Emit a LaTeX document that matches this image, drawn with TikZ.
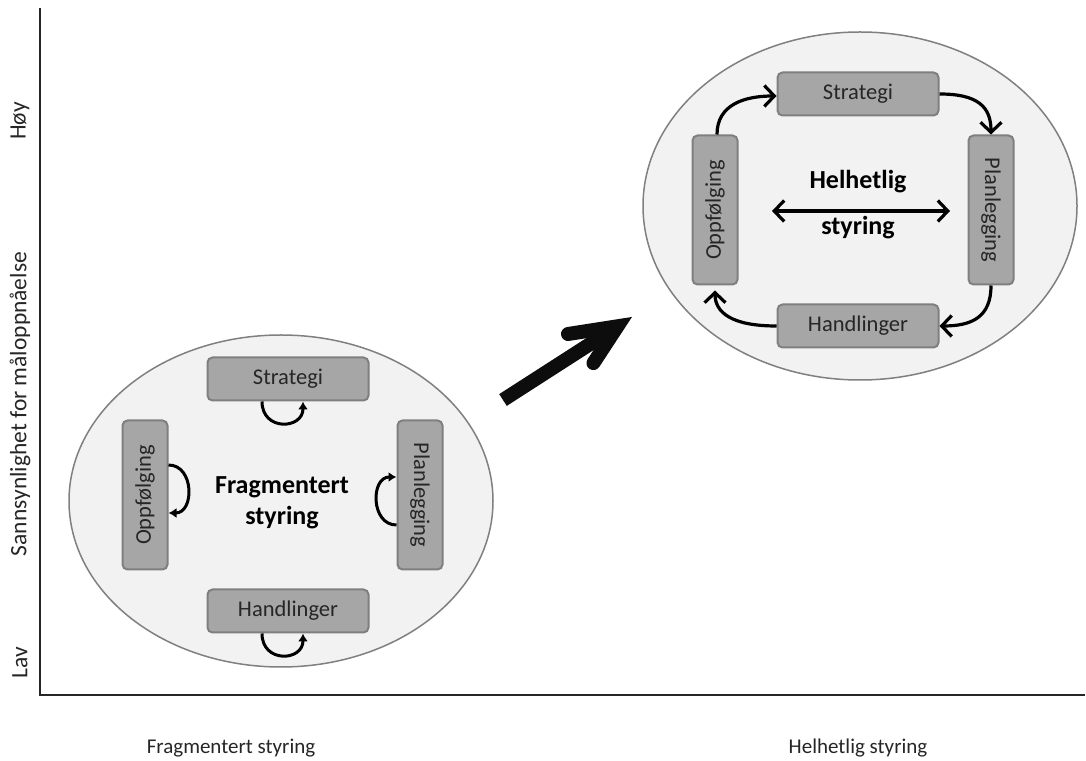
\documentclass[tikz,border=0pt]{standalone}
\usepackage{fontspec}
\setmainfont{Carlito}
\usetikzlibrary{arrows.meta}
\definecolor{ellfill}{HTML}{F2F2F2}
\definecolor{ellline}{HTML}{808080}
\definecolor{boxfill}{HTML}{A6A6A6}
\definecolor{boxline}{HTML}{7F7F7F}
\definecolor{txt}{HTML}{262626}
\tikzset{
  x=1pt,y=1pt,
  ell/.style={draw=ellline,fill=ellfill,line width=1.5pt},
  hbox/.style={draw=boxline,fill=boxfill,line width=2pt,rounded corners=5pt,minimum width=161pt,minimum height=43pt,inner sep=0pt,text=txt,font=\fontsize{22.5}{26}\selectfont},
  vbox/.style={hbox,rotate=-90,minimum width=149pt,minimum height=45pt},
  vboxl/.style={hbox,rotate=90,minimum width=149pt,minimum height=45pt},
  midtxt/.style={font=\fontsize{26}{30}\selectfont\bfseries,text=black,inner sep=0pt},
  axlbl/.style={font=\fontsize{21}{24}\selectfont,text=txt,inner sep=0pt},
  ylbl/.style={font=\fontsize{23.5}{27}\selectfont,text=txt,inner sep=0pt,rotate=90},
  loop/.style={line width=3pt,-{Latex[length=8pt,width=10pt]}},
  barb/.tip={Straight Barb[length=10pt,width=21pt,line width=3.2pt]},
  cyc/.style={line width=3.2pt,-barb},
}
\begin{document}
\begin{tikzpicture}
\useasboundingbox (0,0) rectangle (1086,760);
\fill[white] (0,0) rectangle (1086,760);
% axes
\coordinate (ytop) at (40,752);
\coordinate (orig) at (40,65);
\coordinate (xend) at (1085,65);
\draw[line width=1.5pt,draw=black!85] (ytop) -- (orig) -- (xend);
\node[ylbl] (hoy) at (20,639) {Høy};
\node[ylbl] (sann) at (20,356) {Sannsynlighet for måloppnåelse};
\node[ylbl] (lav) at (20,97) {Lav};
\node[axlbl] (xl1) at (231,12) {Fragmentert styring};
\node[axlbl] (xl2) at (858,12) {Helhetlig styring};
% left ellipse
\draw[ell] (281,259) ellipse [x radius=212,y radius=166];
\node[hbox] (lS) at (288,381) {Strategi};
\node[hbox] (lH) at (288,149) {Handlinger};
\node[vboxl] (lO) at (145,265) {Oppfølging};
\node[vbox] (lP) at (420,265) {Planlegging};
\node[midtxt] (lT1) at (282,273) {Fragmentert};
\node[midtxt] (lT2) at (282,242) {styring};
\draw[loop] ([xshift=-26pt]lS.south) .. controls +(0,-30) and +(0,-28) .. ([xshift=15pt]lS.south);
\draw[loop] ([xshift=-26pt]lH.south) .. controls +(0,-30) and +(0,-28) .. ([xshift=15pt]lH.south);
\draw[loop] ([yshift=30pt]lO.south) .. controls +(26,0) and +(26,0) .. ([yshift=-18pt]lO.south);
\draw[loop] ([yshift=-30pt]lP.south) .. controls +(-26,0) and +(-26,0) .. ([yshift=18pt]lP.south);
% big arrow
\coordinate (bt) at (503,360);
\coordinate (bj) at (617.5,433.7);
\coordinate (ba1) at (568,426);
\coordinate (ba2) at (593.4,396.9);
\draw[line width=14pt,line cap=butt,draw=black!95] (bt) -- ([shift={(-3,-2)}]bj);
\draw[line width=14pt,line cap=round,line join=miter,draw=black!95] (ba1) -- (bj) -- (ba2);
% right ellipse
\draw[ell] (860,554) ellipse [x radius=217,y radius=174];
\node[hbox] (rS) at (858,666) {Strategi};
\node[hbox] (rH) at (858,434) {Handlinger};
\node[vboxl] (rO) at (715,550) {Oppfølging};
\node[vbox] (rP) at (991,550) {Planlegging};
\node[midtxt] (rT1) at (858,578) {Helhetlig};
\node[midtxt] (rT2) at (858,532) {styring};
\coordinate (dl) at (772,549);
\coordinate (dr) at (950,549);
\draw[line width=3.2pt,barb-barb] (dl) -- (dr);
\draw[cyc] ([xshift=2pt]rO.east) .. controls +(0,30) and +(-32,0) .. ([yshift=-2pt]rS.west);
\draw[cyc] (rS.east) .. controls +(38,0) and +(0,28) .. (rP.west);
\draw[cyc] (rP.east) .. controls +(0,-32) and +(32,0) .. (rH.east);
\draw[cyc] (rH.west) .. controls +(-45,0) and +(0,-22) .. ([yshift=-5pt]rO.west);
\end{tikzpicture}
\end{document}
